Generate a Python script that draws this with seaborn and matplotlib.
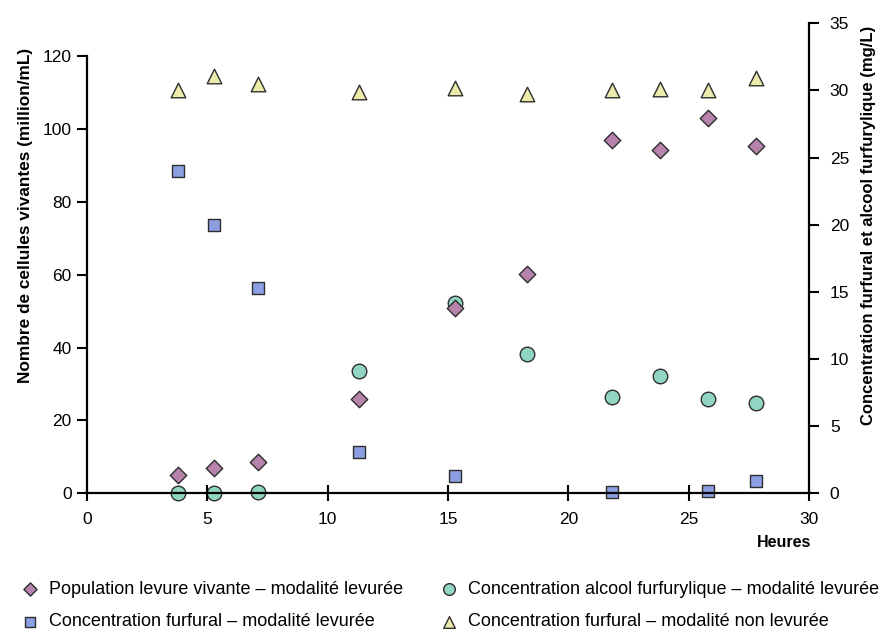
import matplotlib
matplotlib.use("Agg")
import matplotlib.pyplot as plt
import seaborn as sns
import numpy as np
import pandas as pd

sns.set_theme(style="white")
plt.rcParams['font.family'] = ['Liberation Sans', 'DejaVu Sans']
plt.rcParams['text.color'] = 'black'
plt.rcParams['axes.labelcolor'] = 'black'

# ---- data ----
heures = [3.8, 5.3, 7.1, 11.3, 15.3, 18.3, 21.8, 23.8, 25.8, 27.8]
population = [4.9, 7.0, 8.7, 26.0, 50.9, 60.3, 97.1, 94.2, 103.0, 95.3]
furfural_levuree = [24.0, 20.0, 15.3, 3.1, 1.3, np.nan, 0.1, np.nan, 0.2, 0.9]
alcool_levuree = [0.0, 0.0, 0.1, 9.1, 14.2, 10.4, 7.2, 8.7, 7.0, 6.7]
furfural_non_levuree = [30.0, 31.1, 30.5, 29.9, 30.2, 29.7, 30.0, 30.1, 30.0, 30.9]

lab_pop = "Population levure vivante – modalité levurée"
lab_furf = "Concentration furfural – modalité levurée"
lab_alc = "Concentration alcool furfurylique – modalité levurée"
lab_non = "Concentration furfural – modalité non levurée"

df = pd.DataFrame({"h": heures, "pop": population, "furf": furfural_levuree,
                   "alc": alcool_levuree, "non": furfural_non_levuree})

fig = plt.figure(figsize=(8.85, 6.31), dpi=100)
ax = fig.add_axes([0.0981, 0.2182, 0.8160, 0.7450])
ax2 = ax.twinx()

edge = "#2e2e2e"
sns.scatterplot(data=df, x="h", y="furf", ax=ax2, marker="s", s=75, color="#8c9fe2",
                edgecolor=edge, linewidth=1.0, label=lab_furf, clip_on=False, zorder=3)
sns.scatterplot(data=df, x="h", y="alc", ax=ax2, marker="o", s=110, color="#90d6c2",
                edgecolor=edge, linewidth=1.0, label=lab_alc, clip_on=False, zorder=3)
sns.scatterplot(data=df, x="h", y="non", ax=ax2, marker="^", s=110, color="#ecebab",
                edgecolor=edge, linewidth=1.0, label=lab_non, clip_on=False, zorder=3)
sns.scatterplot(data=df, x="h", y="pop", ax=ax, marker="D", s=70, color="#b783ac",
                edgecolor=edge, linewidth=1.0, label=lab_pop, clip_on=False, zorder=4)

ax.set_zorder(ax2.get_zorder() + 1)
ax.patch.set_visible(False)

# limits
ax.set_xlim(0, 30)
ax.set_ylim(0, 129.1)
ax2.set_ylim(0, 35)
ax.set_xticks([0, 5, 10, 15, 20, 25, 30])
ax.set_yticks([0, 20, 40, 60, 80, 100, 120])
ax2.set_yticks([0, 5, 10, 15, 20, 25, 30, 35])

for a in (ax, ax2):
    for s in a.spines.values():
        s.set_visible(False)
        s.set_linewidth(1.6)
        s.set_color("black")
ax.spines['left'].set_visible(True)
ax.spines['left'].set_bounds(0, 120)
ax.spines['bottom'].set_visible(True)
ax2.spines['right'].set_visible(True)

fs = 12.5
ax.tick_params(axis='y', direction='out', length=7, width=1.5, pad=4, labelsize=fs,
               colors='black', left=True)
ax.tick_params(axis='x', direction='inout', length=11, width=1.5, pad=8, labelsize=fs,
               colors='black', bottom=True)
ax2.tick_params(axis='y', direction='out', length=7, width=1.5, pad=8, labelsize=fs,
                colors='black', right=True)

ax.set_xlabel("")
ax.set_ylabel("Nombre de cellules vivantes (million/mL)", fontsize=12.4, fontweight='bold')
ax.yaxis.set_label_coords(-0.0745, 0.592)
ax2.set_ylabel("Concentration furfural et alcool furfurylique (mg/L)", fontsize=12,
               fontweight='bold')
ax2.yaxis.set_label_coords(1.072, 0.571)
ax.text(1.003, -0.105, "Heures", transform=ax.transAxes, ha='right', va='center',
        fontsize=11.5, fontweight='bold')

h1, l1 = ax.get_legend_handles_labels()
h2, l2 = ax2.get_legend_handles_labels()
hd = dict(zip(l1 + l2, h1 + h2))
for a in (ax, ax2):
    if a.get_legend() is not None:
        a.get_legend().remove()
order = [lab_pop, lab_furf, lab_alc, lab_non]
fig.legend([hd[k] for k in order], order, ncol=2, loc='center left',
           bbox_to_anchor=(0.004, 0.040), frameon=False, fontsize=13,
           handletextpad=0.5, columnspacing=2.0, labelspacing=0.85,
           handlelength=1.1, markerscale=0.8, labelcolor='black')

fig.savefig("out.png", dpi=100, facecolor='white')
